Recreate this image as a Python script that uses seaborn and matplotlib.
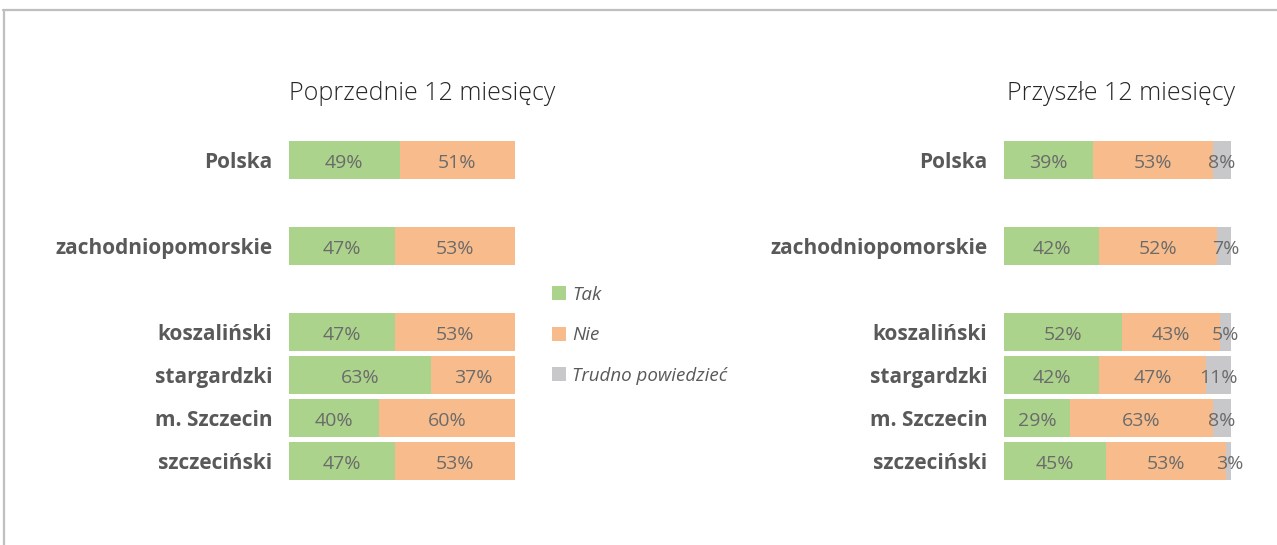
import matplotlib
matplotlib.use("Agg")
import matplotlib.pyplot as plt
import seaborn as sns
import numpy as np
from matplotlib.patches import Patch
from matplotlib.lines import Line2D

# ===============================
# Dane
# ===============================
kategorie = ["Polska", "zachodniopomorskie", "koszaliński", "stargardzki",
             "m. Szczecin", "szczeciński"]
wiersze = [0, 2, 4, 5, 6, 7]   # miejsce wiersza (puste wiersze jako odstęp)

poprz_tak = [49, 47, 47, 63, 40, 47]
poprz_nie = [51, 53, 53, 37, 60, 53]

przysz_tak = [39, 42, 52, 42, 29, 45]
przysz_nie = [53, 52, 43, 47, 63, 53]
przysz_trudno = [8, 7, 5, 11, 8, 3]

serie = ["Tak", "Nie", "Trudno powiedzieć"]
kolory = ["#abd38b", "#f8bc8c", "#c8c8ca"]

tytul_lewy = "Poprzednie 12 miesięcy"
tytul_prawy = "Przyszłe 12 miesięcy"

# ===============================
# Styl
# ===============================
sns.set_style("white")
plt.rcParams["font.family"] = ["Open Sans", "DejaVu Sans"]

W, H = 1277, 545
fig = plt.figure(figsize=(W / 100, H / 100), dpi=100)

top_px, bot_px = 138.5, 482.5
ax1 = fig.add_axes([289 / W, 1 - bot_px / H, 226 / W, (bot_px - top_px) / H])
ax2 = fig.add_axes([1004 / W, 1 - bot_px / H, 227 / W, (bot_px - top_px) / H])

kolor_tekstu = "#6b6b6b"
kolor_etykiet = "#595959"


def rysuj(ax, wartosci):
    # skumulowane sumy, rysowane od najdłuższej (nakładanie)
    cum = np.cumsum(np.array(wartosci), axis=0)
    for i in range(len(wartosci) - 1, -1, -1):
        sns.barplot(x=cum[i], y=wiersze, orient="h", native_scale=True,
                    color=kolory[i], saturation=1, width=0.9, linewidth=0,
                    errorbar=None, ax=ax)
    # etykiety wartości
    for i, seria in enumerate(wartosci):
        start = cum[i] - np.array(seria)
        for s, v, y in zip(start, seria, wiersze):
            ax.text(s + v / 2, y + 0.06, f"{v}%", ha="center", va="center",
                    fontsize=14, color=kolor_tekstu)
    ax.set_xlim(0, 100)
    ax.set_ylim(7.5, -0.5)
    ax.set_yticks(wiersze)
    ax.set_yticklabels(kategorie, fontsize=15, fontweight="bold", color=kolor_etykiet)
    ax.tick_params(axis="y", length=0, pad=12)
    ax.set_xticks([])
    ax.set_xlabel("")
    ax.set_ylabel("")
    sns.despine(ax=ax, left=True, bottom=True)


rysuj(ax1, [poprz_tak, poprz_nie])
rysuj(ax2, [przysz_tak, przysz_nie, przysz_trudno])

# tytuły
fig.text(289 / W, 1 - 93 / H, tytul_lewy, ha="left", va="center",
         fontsize=18, fontweight="light", color="#262626")
fig.text(1235 / W, 1 - 93 / H, tytul_prawy, ha="right", va="center",
         fontsize=18, fontweight="light", color="#262626")

# legenda
uchwyty = [Patch(facecolor=k, edgecolor="none") for k in kolory]
leg = fig.legend(uchwyty, serie, loc="upper left",
                 bbox_to_anchor=(535 / W, 1 - 269 / H), frameon=False,
                 handlelength=0.75, handleheight=0.75, handletextpad=0.35,
                 labelspacing=1.2, prop={"size": 13.5, "style": "italic"})
for t in leg.get_texts():
    t.set_color(kolor_etykiet)

# ramka
kolor_ramki = "#bfbfbf"
fig.add_artist(Line2D([3 / W, 1], [1 - 9.5 / H, 1 - 9.5 / H],
                      transform=fig.transFigure, color=kolor_ramki, lw=1.6))
fig.add_artist(Line2D([3.5 / W, 3.5 / W], [0, 1 - 9.5 / H],
                      transform=fig.transFigure, color=kolor_ramki, lw=1.6))

fig.savefig("out.png", dpi=100)
